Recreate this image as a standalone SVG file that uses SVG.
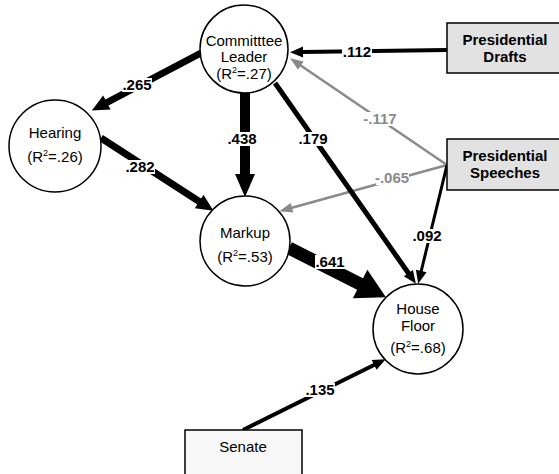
<svg xmlns="http://www.w3.org/2000/svg" width="559" height="474" viewBox="0 0 559 474">
  <style>
    .node circle { fill: #ffffff; stroke: #000000; stroke-width: 1.5; }
    .box rect { stroke: #000000; stroke-width: 1.5; }
    .pres rect { fill: #e2e2e2; }
    .senate rect { fill: #f7f8f7; }
    text { font-family: "Liberation Sans", Arial, sans-serif; font-size: 15px; text-anchor: middle; fill: #000000; }
    .bold { font-weight: bold; }
    .sup { font-size: 9px; }
    .edge { fill: none; stroke: #000000; stroke-linecap: butt; }
    .edge.gray { stroke: #8a8a8a; }
    .lbg { fill: #ffffff; }
    .lbl { font-weight: bold; }
    .lbl.gray { fill: #8a8a8a; }
  </style>
  <defs>
    <marker id="headS" markerUnits="userSpaceOnUse" markerWidth="14" markerHeight="12" viewBox="0 -6 14 12" refX="1" refY="0" orient="auto" overflow="visible">
      <path d="M0,-5.5 L13,0 L0,5.5 Z" fill="#000000"/>
    </marker>
    <marker id="headG" markerUnits="userSpaceOnUse" markerWidth="14" markerHeight="12" viewBox="0 -6 14 12" refX="1" refY="0" orient="auto" overflow="visible">
      <path d="M0,-5 L13,0 L0,5 Z" fill="#8a8a8a"/>
    </marker>
    <marker id="headM" markerUnits="userSpaceOnUse" markerWidth="18" markerHeight="18" viewBox="0 -9 18 18" refX="1" refY="0" orient="auto" overflow="visible">
      <path d="M0,-8 L17,0 L0,8 Z" fill="#000000"/>
    </marker>
    <marker id="headL" markerUnits="userSpaceOnUse" markerWidth="24" markerHeight="22" viewBox="0 -11 24 22" refX="1" refY="0" orient="auto" overflow="visible">
      <path d="M0,-10 L23,0 L0,10 Z" fill="#000000"/>
    </marker>
    <marker id="headXL" markerUnits="userSpaceOnUse" markerWidth="30" markerHeight="34" viewBox="0 -17 30 34" refX="1" refY="0" orient="auto" overflow="visible">
      <path d="M0,-16 L29,0 L0,16 Z" fill="#000000"/>
    </marker>
  </defs>

  <!-- paths between the nodes, with their coefficient labels -->
  <g id="connectors">
    <line class="edge" x1="447" y1="50" x2="302" y2="52" stroke-width="4" marker-end="url(#headS)"/>
    <line class="edge gray" x1="447" y1="165" x2="300" y2="65" stroke-width="2.5" marker-end="url(#headG)"/>
    <line class="edge gray" x1="447" y1="165" x2="291" y2="208" stroke-width="2.5" marker-end="url(#headG)"/>
    <line class="edge" x1="447" y1="165" x2="421" y2="272" stroke-width="3" marker-end="url(#headS)"/>
    <line class="edge" x1="275" y1="83" x2="409" y2="274" stroke-width="5" marker-end="url(#headS)"/>
    <line class="edge" x1="245" y1="92" x2="245" y2="175" stroke-width="10" marker-end="url(#headL)"/>
    <line class="edge" x1="201" y1="53" x2="106" y2="103" stroke-width="7" marker-end="url(#headM)"/>
    <line class="edge" x1="101" y1="138" x2="200" y2="202" stroke-width="7" marker-end="url(#headM)"/>
    <line class="edge" x1="289" y1="248" x2="361" y2="284.5" stroke-width="13" marker-end="url(#headXL)"/>
    <line class="edge" x1="243" y1="430" x2="375" y2="364.5" stroke-width="4" marker-end="url(#headS)"/>

    <rect class="lbg" x="342" y="45" width="30" height="14"/>
    <text class="lbl" x="357" y="57">.112</text>
    <rect class="lbg" x="364" y="112" width="33" height="14"/>
    <text class="lbl gray" x="380" y="124">-.117</text>
    <rect class="lbg" x="376" y="171" width="33" height="14"/>
    <text class="lbl gray" x="392" y="183">-.065</text>
    <rect class="lbg" x="412" y="229" width="30" height="14"/>
    <text class="lbl" x="427" y="241">.092</text>
    <rect class="lbg" x="298" y="132" width="30" height="14"/>
    <text class="lbl" x="313" y="144">.179</text>
    <rect class="lbg" x="227" y="132" width="30" height="14"/>
    <text class="lbl" x="242" y="144">.438</text>
    <rect class="lbg" x="122" y="78" width="30" height="14"/>
    <text class="lbl" x="137" y="90">.265</text>
    <rect class="lbg" x="125" y="160" width="30" height="14"/>
    <text class="lbl" x="140" y="172">.282</text>
    <rect class="lbg" x="315" y="255" width="30" height="14"/>
    <text class="lbl" x="330" y="267">.641</text>
    <rect class="lbg" x="305" y="383" width="30" height="14"/>
    <text class="lbl" x="320" y="395">.135</text>
  </g>

  <g id="committee-leader" class="node">
    <circle cx="244" cy="49" r="44"/>
    <text x="244" y="46">Committtee</text>
    <text x="244" y="62">Leader</text>
    <text x="244" y="79">(R<tspan class="sup" dy="-6">2</tspan><tspan dy="6">=.27)</tspan></text>
  </g>

  <g id="hearing" class="node">
    <circle cx="55" cy="146" r="46"/>
    <text x="55" y="138">Hearing</text>
    <text x="55" y="162">(R<tspan class="sup" dy="-6">2</tspan><tspan dy="6">=.26)</tspan></text>
  </g>

  <g id="markup" class="node">
    <circle cx="245" cy="241" r="45"/>
    <text x="245" y="238">Markup</text>
    <text x="245" y="262">(R<tspan class="sup" dy="-6">2</tspan><tspan dy="6">=.53)</tspan></text>
  </g>

  <g id="house-floor" class="node">
    <circle cx="418" cy="329" r="45"/>
    <text x="418" y="314">House</text>
    <text x="418" y="331">Floor</text>
    <text x="418" y="353">(R<tspan class="sup" dy="-6">2</tspan><tspan dy="6">=.68)</tspan></text>
  </g>

  <g id="presidential-drafts" class="box pres">
    <rect x="447" y="23" width="120" height="50"/>
    <text class="bold" x="505" y="45">Presidential</text>
    <text class="bold" x="505" y="62">Drafts</text>
  </g>

  <g id="presidential-speeches" class="box pres">
    <rect x="447" y="139" width="120" height="51"/>
    <text class="bold" x="505" y="161">Presidential</text>
    <text class="bold" x="505" y="178">Speeches</text>
  </g>

  <g id="senate" class="box senate">
    <rect x="185" y="430" width="117" height="60"/>
    <text x="243" y="452">Senate</text>
  </g>
</svg>
